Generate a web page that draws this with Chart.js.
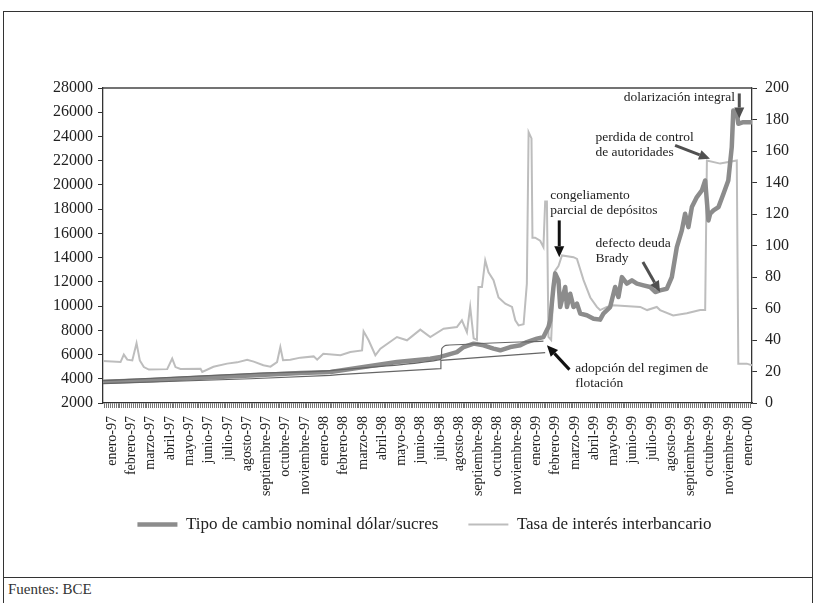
<!DOCTYPE html>
<html><head><meta charset="utf-8">
<script src="https://cdn.jsdelivr.net/npm/chart.js@4"></script>
<style>
html,body{margin:0;padding:0;background:#fff;}
#wrap{position:relative;width:815px;height:603px;overflow:hidden;font-family:'Liberation Serif',serif;}
#frame{position:absolute;left:3px;top:11px;width:810px;height:600px;box-sizing:border-box;border:1.5px solid #333;border-bottom:none;}
#sep{position:absolute;left:3px;top:577px;width:810px;height:0;border-top:1.5px solid #333;}
#src{position:absolute;left:8px;top:581px;font-size:15px;color:#333;}
#cbox{position:absolute;left:0;top:0;width:815px;height:555px;}
</style></head>
<body><div id="wrap"><div id="frame"></div><div id="sep"></div><div id="src">Fuentes: BCE</div><div id="cbox"><canvas id="c"></canvas></div></div>
<script>
// ---- tick labels (one per position on the category axis) ----
const monthLabels = ['enero-97','febrero-97','marzo-97','abril-97','mayo-97','junio-97','julio-97','agosto-97','septiembre-97','octubre-97','noviembre-97',
  'enero-98','febrero-98','marzo-98','abril-98','mayo-98','junio-98','julio-98','agosto-98','septiembre-98','octubre-98','noviembre-98',
  'enero-99','febrero-99','marzo-99','abril-99','mayo-99','junio-99','julio-99','agosto-99','septiembre-99','octubre-99','noviembre-99','enero-00'];

// ---- Tipo de cambio nominal (sucres por dólar), position in label units ----
const rateX = [-0.48,1.99,4.58,7.17,9.76,11.32,13.04,14.77,16.5,17.02,17.88,18.23,18.75,19.26,19.78,20.13,20.65,21.17,21.51,22.03,22.37,22.63,22.72,22.89,22.98,23.15,23.24,23.5,23.59,23.76,23.93,24.11,24.28,24.62,24.97,25.31,25.48,25.83,26.09,26.26,26.44,26.7,26.96,27.22,27.56,27.91,28.17,28.42,28.77,29.03,29.29,29.55,29.72,29.89,30.07,30.33,30.59,30.76,30.93,31.02,31.19,31.45,31.71,31.96,32.14,32.22,32.4,32.48,32.74,33.19];
const rateY = [3750,3870,4090,4260,4470,4560,4970,5380,5660,5800,6200,6620,6900,6760,6490,6350,6620,6760,7030,7310,7440,8270,8820,11570,12700,12120,9920,11570,9920,11020,9920,10200,9380,9240,8960,8880,9380,9920,11570,10750,12390,11850,12120,11850,11710,11570,11160,11300,11430,12390,14870,16250,17620,16520,18170,19000,19550,20370,17070,17620,17900,18170,19270,20370,23120,26140,26000,25050,25180,25180];

// ---- Tasa de interés interbancario (%) ----
const tasaX = [-0.48,0.43,0.6,0.78,1.04,1.26,1.43,1.64,1.9,2.85,3.11,3.28,3.54,4.58,4.67,5.25,5.96,6.48,7.0,7.34,7.84,8.21,8.55,8.72,8.86,9.24,9.76,10.45,10.63,10.95,11.84,12.35,12.96,13.04,13.3,13.65,13.91,14.77,15.29,15.98,16.5,17.19,17.88,18.14,18.4,18.57,18.75,18.92,19.0,19.18,19.35,19.52,19.78,20.04,20.39,20.74,20.91,21.08,21.34,21.51,21.6,21.75,21.8,21.94,22.2,22.37,22.46,22.55,22.63,22.77,22.89,22.98,23.15,23.33,23.93,24.11,24.45,24.8,25.14,25.31,25.66,25.99,27.39,27.75,28.25,28.42,29.1,29.81,30.5,30.76,30.85,31.54,32.4,32.48,32.92,33.19];
const tasaY = [26.6,26,30.7,27.5,27,38,27,22.8,21.2,21.5,28.2,22.8,21.6,21.8,19.7,23,25,25.8,27.5,26.3,24,23.1,26,35.5,27.2,27.5,28.8,29.6,27.5,31.3,30.3,32.4,33.4,45.5,39.8,30.3,34.5,41.9,39.8,46.6,41.9,47.2,48.2,52.5,45,61,41,40,73.6,73.6,90.5,83,78,67,63,61,52.5,49.3,50,75.8,172,168,105,105,103,99,128,128,42,40,73.6,84,87,93.7,92.6,91.5,78,67,61,59,61,62,61,59,61,59,55.6,57,59,59,154,152,154,25,25,24];

// ---- Banda cambiaria (límites superior e inferior) ----
const bandUpX = [-0.48,7.17,11.32,17.02,17.1,17.3,22.37];
const bandUpY = [3850,4425,4680,5580,6500,6760,7115];
const bandLowX = [-0.48,7.17,11.32,11.73,17.02,17.05,22.46];
const bandLowY = [3600,4000,4285,4350,4840,5520,6160];

const seriesNames = ['Tipo de cambio nominal dólar/sucres','Tasa de interés interbancario'];

const pts = (xs, ys) => xs.map((x, i) => ({x: x, y: ys[i]}));

// annotation layout (positions in axis units)
const notes = [
  {lines:['dolarización integral'], u:32.31, v:27200, align:'right', from:[32.53,27550], to:[32.53,25480], color:'#505050'},
  {lines:['perdida de control','de autoridades'], u:25.07, v:23940, align:'left', from:[29.2,23260], to:[31.01,22160], color:'#505050'},
  {lines:['congeliamento','parcial de depósitos'], u:22.72, v:19130, align:'left', from:[23.19,17070], to:[23.19,14040], color:'#111'},
  {lines:['defecto deuda','Brady'], u:25.07, v:15150, align:'left', from:[27.53,13630], to:[28.42,11160], color:'#505050'},
  {lines:['adopción del regimen de','flotación'], u:24.02, v:4840, align:'left', from:[23.72,4755], to:[22.55,6760], color:'#111'}
];

const SERIF = "'Liberation Serif', 'Times New Roman', serif";

const decor = {
  id:'decor',
  afterLayout(chart){
    // lift the legend row closer to the axis labels
    if (chart.legend) { chart.legend.top -= 12; chart.legend.bottom -= 12; }
  },
  afterDatasetsDraw(chart){
    const {ctx, chartArea, scales} = chart;
    ctx.save();
    ctx.strokeStyle = '#444'; ctx.lineWidth = 1.3;
    ctx.beginPath(); ctx.moveTo(chartArea.left, chartArea.top); ctx.lineTo(chartArea.right, chartArea.top); ctx.stroke();
    ctx.font = '13.5px ' + SERIF; ctx.fillStyle = '#222'; ctx.textBaseline = 'middle';
    notes.forEach(n => {
      const px = scales.x.getPixelForValue(n.u), py = scales.y.getPixelForValue(n.v);
      ctx.textAlign = n.align;
      n.lines.forEach((t, i) => ctx.fillText(t, px, py + i * 15));
      const x1 = scales.x.getPixelForValue(n.from[0]), y1 = scales.y.getPixelForValue(n.from[1]);
      const x2 = scales.x.getPixelForValue(n.to[0]), y2 = scales.y.getPixelForValue(n.to[1]);
      const ang = Math.atan2(y2 - y1, x2 - x1), hl = 11, hw = 5;
      const bx = x2 - hl * Math.cos(ang), by = y2 - hl * Math.sin(ang);
      ctx.strokeStyle = n.color; ctx.fillStyle = n.color; ctx.lineWidth = 3;
      ctx.beginPath(); ctx.moveTo(x1, y1); ctx.lineTo(bx, by); ctx.stroke();
      ctx.beginPath(); ctx.moveTo(x2, y2);
      ctx.lineTo(bx + hw * Math.sin(ang), by - hw * Math.cos(ang));
      ctx.lineTo(bx - hw * Math.sin(ang), by + hw * Math.cos(ang));
      ctx.closePath(); ctx.fill();
      ctx.fillStyle = '#222';
    });
    ctx.restore();
  }
};

function draw(){
new Chart(document.getElementById('c'), {
  type:'line',
  data:{ datasets:[
    {label:seriesNames[0], data:pts(rateX, rateY), yAxisID:'y', borderColor:'#8c8c8c', backgroundColor:'#8c8c8c', borderWidth:4.5, pointRadius:0, tension:0, borderJoinStyle:'round', order:1},
    {label:seriesNames[1], data:pts(tasaX, tasaY), yAxisID:'y1', borderColor:'#bdbdbd', backgroundColor:'#bdbdbd', borderWidth:2, pointRadius:0, tension:0, order:2},
    {label:'banda superior', data:pts(bandUpX, bandUpY), yAxisID:'y', borderColor:'#666', borderWidth:1.2, pointRadius:0, tension:0.2, order:0},
    {label:'banda inferior', data:pts(bandLowX, bandLowY), yAxisID:'y', borderColor:'#666', borderWidth:1.2, pointRadius:0, tension:0, order:0}
  ]},
  options:{
    responsive:true, maintainAspectRatio:false, animation:false,
    layout:{padding:{top:88, left:34, right:0, bottom:0}},
    plugins:{
      tooltip:{enabled:false},
      legend:{position:'bottom', labels:{usePointStyle:true, pointStyle:'line', pointStyleWidth:40, boxHeight:17, padding:30, color:'#222', font:{family:SERIF, size:17}, filter:(it)=>it.datasetIndex < 2}}
    },
    scales:{
      x:{type:'linear', min:-0.48, max:33.19,
        afterBuildTicks(scale){ const t=[]; for(let k=Math.ceil(scale.min*10); k<=Math.floor(scale.max*10); k++) t.push({value:k/10}); scale.ticks=t; },
        afterFit(scale){ scale.height = 95; },
        ticks:{autoSkip:false, minRotation:90, maxRotation:90, padding:8, color:'#222', font:{family:SERIF, size:14},
          callback:(v)=>{ const r=Math.round(v*10); return (r % 10 === 0 && r/10 >= 0 && r/10 < monthLabels.length) ? monthLabels[r/10] : ''; }},
        grid:{drawOnChartArea:false, drawTicks:true, tickLength:5, color:'#777', lineWidth:1},
        border:{color:'#333', width:1.3}
      },
      y:{position:'left', min:2000, max:28000,
        afterFit(scale){ scale.width = 69; },
        ticks:{stepSize:2000, color:'#222', padding:5, font:{family:SERIF, size:16}, callback:(v)=>String(v)},
        grid:{drawOnChartArea:false, tickLength:5, color:'#333'},
        border:{color:'#333', width:1.3}
      },
      y1:{position:'right', min:0, max:200,
        afterFit(scale){ scale.width = 63; },
        ticks:{stepSize:20, color:'#222', padding:8, font:{family:SERIF, size:16}, callback:(v)=>String(v)},
        grid:{drawOnChartArea:false, tickLength:5, color:'#333'},
        border:{color:'#333', width:1.3}
      }
    }
  },
  plugins:[decor]
});
}
const fl = document.fonts ? Promise.all([document.fonts.load("16px 'Liberation Serif'"), document.fonts.ready]) : Promise.resolve();
fl.catch(()=>{}).then(draw);
</script>
</body></html>
